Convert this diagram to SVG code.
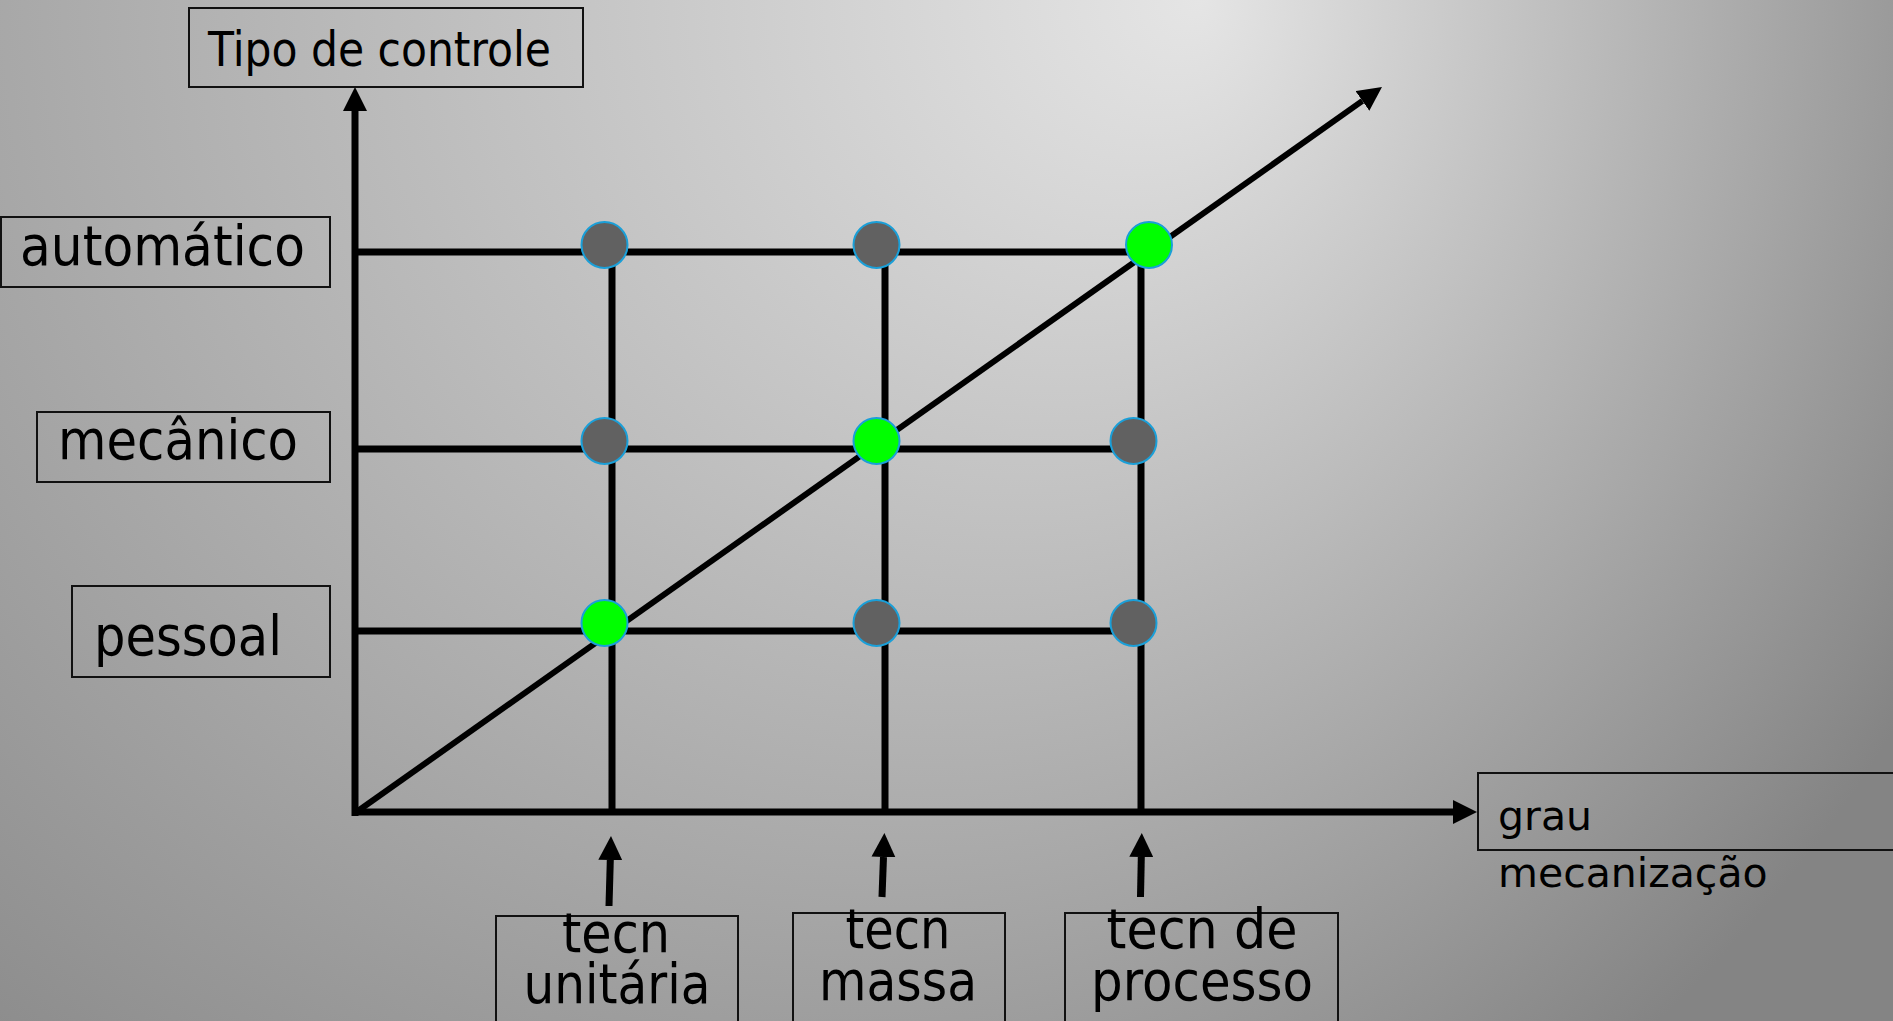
<svg xmlns="http://www.w3.org/2000/svg" width="1893" height="1021" viewBox="0 0 1893 1021">
<defs>
<radialGradient id="bg" gradientUnits="userSpaceOnUse" cx="700" cy="0" r="1400" fx="1200" fy="0">
<stop offset="0" stop-color="#e5e5e5"/>
<stop offset="1" stop-color="#848484"/>
</radialGradient>
<marker id="ah" viewBox="0 -12 24 24" refX="0" refY="0" markerWidth="24" markerHeight="24" markerUnits="userSpaceOnUse" orient="auto">
<path d="M0,-12 L24,0 L0,12 z" fill="#000"/>
</marker>
<style>
.box{fill:none;stroke:#111;stroke-width:2}
.lbl{font-family:"DejaVu Sans","Verdana",sans-serif;fill:#000}
.grid{stroke:#000;stroke-width:7;fill:none}
.arr{stroke:#000;stroke-width:7;fill:none;marker-end:url(#ah)}
.diag{stroke:#000;stroke-width:6;fill:none;marker-end:url(#ah)}
.dotg{fill:#616161;stroke:#1a9fd8;stroke-width:2}
.dotv{fill:#00ff00;stroke:#1a9fd8;stroke-width:2}
</style>
</defs>
<rect x="0" y="0" width="1893" height="1021" fill="url(#bg)"/>

<g id="connectors">
<path class="arr" d="M355,816 L355,111"/>
<path class="arr" d="M352,812 L1453,812"/>
<path class="grid" d="M352,252 L1145,252"/>
<path class="grid" d="M352,449 L1134,449"/>
<path class="grid" d="M352,631 L1134,631"/>
<path class="grid" d="M612,252 L612,812"/>
<path class="grid" d="M885,252 L885,812"/>
<path class="grid" d="M1141,252 L1141,812"/>
<path class="diag" d="M355,813 L1362.4,100.9"/>
<path class="arr" d="M609,906 L610.3,860"/>
<path class="arr" d="M882,897 L883.5,857"/>
<path class="arr" d="M1140.5,897 L1141.3,857"/>
</g>

<g id="dots">
<circle class="dotg" cx="604.5" cy="245" r="23"/>
<circle class="dotg" cx="876.5" cy="245" r="23"/>
<circle class="dotv" cx="1149" cy="245" r="23"/>
<circle class="dotg" cx="604.5" cy="441" r="23"/>
<circle class="dotv" cx="876.5" cy="441" r="23"/>
<circle class="dotg" cx="1133.5" cy="441" r="23"/>
<circle class="dotv" cx="604.5" cy="623" r="23"/>
<circle class="dotg" cx="876.5" cy="623" r="23"/>
<circle class="dotg" cx="1133.5" cy="623" r="23"/>
</g>

<g id="node-tipo">
<rect class="box" x="189" y="8" width="394" height="79"/>
<text class="lbl" x="208" y="66" font-size="48" textLength="343" lengthAdjust="spacingAndGlyphs">Tipo de controle</text>
</g>
<g id="node-automatico">
<rect class="box" x="1" y="217" width="329" height="70"/>
<text class="lbl" x="20" y="265" font-size="56" textLength="285" lengthAdjust="spacingAndGlyphs">automático</text>
</g>
<g id="node-mecanico">
<rect class="box" x="37" y="412" width="293" height="70"/>
<text class="lbl" x="58" y="459" font-size="56" textLength="240" lengthAdjust="spacingAndGlyphs">mecânico</text>
</g>
<g id="node-pessoal">
<rect class="box" x="72" y="586" width="258" height="91"/>
<text class="lbl" x="94" y="655" font-size="56" textLength="188" lengthAdjust="spacingAndGlyphs">pessoal</text>
</g>
<g id="node-grau">
<rect class="box" x="1478" y="773" width="430" height="77"/>
<text class="lbl" x="1498" y="830" font-size="41">grau</text>
<text class="lbl" x="1498" y="887" font-size="41">mecanização</text>
</g>
<g id="node-unitaria">
<rect class="box" x="496" y="916" width="242" height="120"/>
<text class="lbl" x="616" y="952" font-size="55" text-anchor="middle" textLength="108" lengthAdjust="spacingAndGlyphs">tecn</text>
<text class="lbl" x="617" y="1003" font-size="55" text-anchor="middle" textLength="187" lengthAdjust="spacingAndGlyphs">unitária</text>
</g>
<g id="node-massa">
<rect class="box" x="793" y="913" width="212" height="120"/>
<text class="lbl" x="898" y="948" font-size="55" text-anchor="middle" textLength="105" lengthAdjust="spacingAndGlyphs">tecn</text>
<text class="lbl" x="898" y="1000" font-size="55" text-anchor="middle" textLength="158" lengthAdjust="spacingAndGlyphs">massa</text>
</g>
<g id="node-processo">
<rect class="box" x="1065" y="913" width="273" height="120"/>
<text class="lbl" x="1202" y="948" font-size="55" text-anchor="middle" textLength="191" lengthAdjust="spacingAndGlyphs">tecn de</text>
<text class="lbl" x="1202" y="1000" font-size="55" text-anchor="middle" textLength="222" lengthAdjust="spacingAndGlyphs">processo</text>
</g>
</svg>
